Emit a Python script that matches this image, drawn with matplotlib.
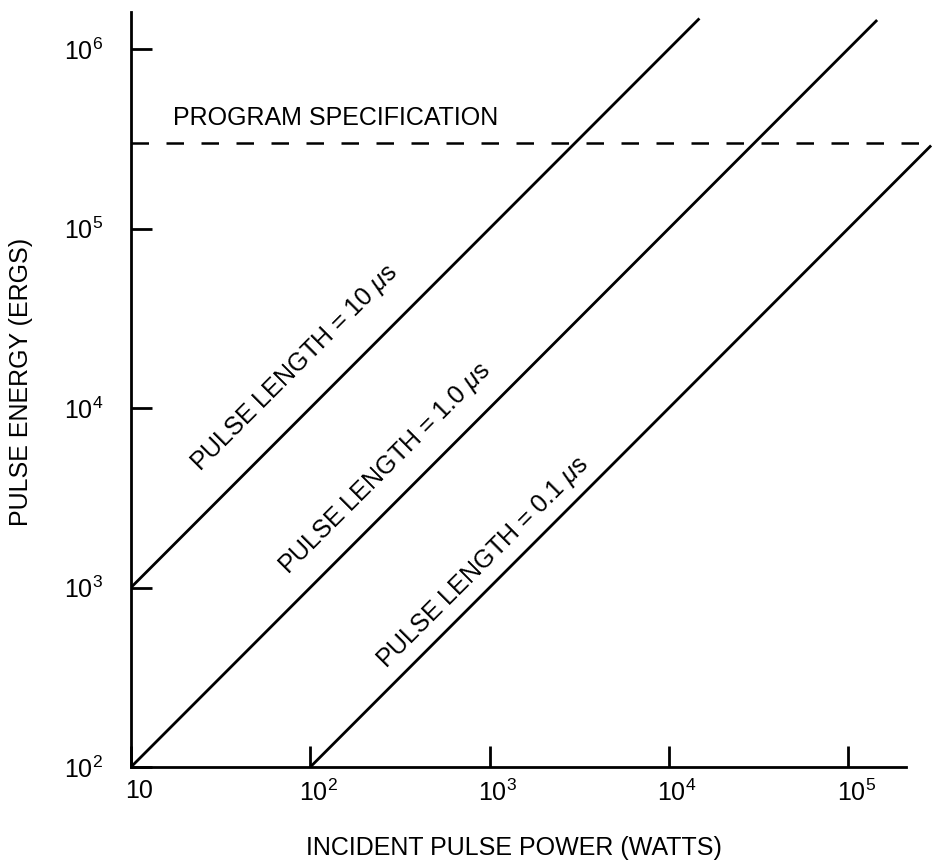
import matplotlib
matplotlib.use("Agg")
from matplotlib import pyplot
from matplotlib import transforms
import numpy as np

pyplot.rcParams["font.family"] = ["Liberation Sans", "DejaVu Sans"]
pyplot.rcParams["mathtext.fontset"] = "custom"
pyplot.rcParams["mathtext.rm"] = "Liberation Sans"
pyplot.rcParams["mathtext.it"] = "Liberation Sans:italic"

# line endpoints (power in W, energy in ergs)
power_10us = [10, 1.48e4]
energy_10us = [1e3, 1.48e6]
power_1us = [10, 1.45e5]
energy_1us = [1e2, 1.45e6]
power_01us = [1e2, 2.9e5]
energy_01us = [1e2, 2.9e5]
spec_power = [10, 3.0e5]
spec_energy = [3.0e5, 3.0e5]

x_ticks = [10, 1e2, 1e3, 1e4, 1e5]
x_tick_labels = ["10", "$10^2$", "$10^3$", "$10^4$", "$10^5$"]
y_ticks = [1e2, 1e3, 1e4, 1e5, 1e6]
y_tick_labels = ["$10^2$", "$10^3$", "$10^4$", "$10^5$", "$10^6$"]

fig = pyplot.figure(figsize=(9.32, 8.65), dpi=100)
ax = fig.add_axes([131 / 932, 98 / 865, 801 / 932, 767 / 865])
ax.set_xscale("log")
ax.set_yscale("log")
ax.set_xlim(10, 10 ** (1 + 801 / 179.3))
ax.set_ylim(1e2, 10 ** (2 + 767 / 179.5))

lw = 2.0
ax.plot(power_10us, energy_10us, color="black", linewidth=lw, solid_capstyle="butt")
ax.plot(power_1us, energy_1us, color="black", linewidth=lw, solid_capstyle="butt")
ax.plot(power_01us, energy_01us, color="black", linewidth=lw, solid_capstyle="butt")
ax.plot(spec_power, spec_energy, color="black", linewidth=1.8,
        linestyle=(0, (7, 7)), clip_on=False)

fs = 18
ax.text(17.1, 4.13e5, "PROGRAM SPECIFICATION", fontsize=fs, va="center", ha="left")
ax.text(82.2, 1.67e4, "PULSE LENGTH = 10 $\\mu$s", fontsize=fs, rotation=45,
        rotation_mode="anchor", ha="center", va="center")
ax.text(261, 4571, "PULSE LENGTH = 1.0 $\\mu$s", fontsize=fs, rotation=45,
        rotation_mode="anchor", ha="center", va="center")
ax.text(918, 1368, "PULSE LENGTH = 0.1 $\\mu$s", fontsize=fs, rotation=45,
        rotation_mode="anchor", ha="center", va="center")

for side in ["top", "right"]:
    ax.spines[side].set_visible(False)
ax.spines["bottom"].set_bounds(10, 2.1e5)
ax.spines["left"].set_bounds(1e2, 1.6e6)
ax.spines["bottom"].set_linewidth(2)
ax.spines["left"].set_linewidth(2)

ax.set_xticks(x_ticks)
ax.set_xticklabels(x_tick_labels, fontsize=fs)
ax.set_yticks(y_ticks)
ax.set_yticklabels(y_tick_labels, fontsize=fs)
ax.minorticks_off()
ax.tick_params(direction="in", length=15, width=2)
ax.tick_params(axis="x", pad=9)
ax.tick_params(axis="y", pad=20)

# x tick labels sit a little right of their ticks in the original
shift = transforms.ScaledTranslation(8 / 100, 0, fig.dpi_scale_trans)
for lab in ax.get_xticklabels():
    lab.set_transform(lab.get_transform() + shift)

ax.set_xlabel("INCIDENT PULSE POWER (WATTS)", fontsize=fs)
ax.xaxis.set_label_coords((514 - 131) / 801, (767 - 836) / 767)
ax.set_ylabel("PULSE ENERGY (ERGS)", fontsize=fs)
ax.yaxis.set_label_coords((33 - 131) / 801, (767 - 382) / 767)

pyplot.savefig("out.png", dpi=100)
